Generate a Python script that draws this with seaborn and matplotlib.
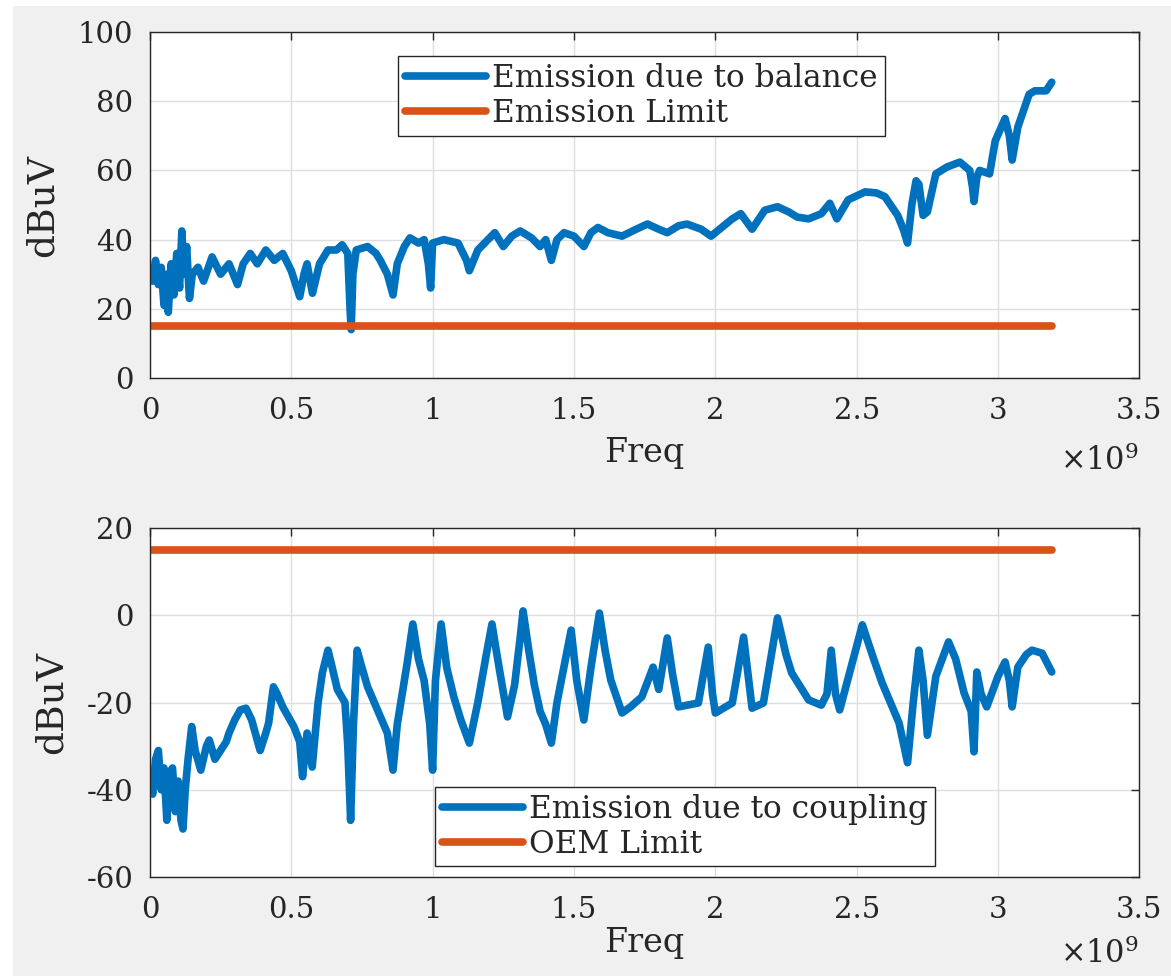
import numpy as np
import pandas as pd
import seaborn as sns
import matplotlib.pyplot as plt
from matplotlib.patches import Rectangle
from matplotlib.ticker import FuncFormatter

sns.set_style("white")
plt.rcParams['font.family'] = ['DejaVu Serif']
plt.rcParams['mathtext.fontset'] = 'dejavuserif'
plt.rcParams['axes.unicode_minus'] = False

# frequency in units of 1e9 Hz, level in dBuV
bal_freq = [0.00, 0.01, 0.02, 0.03, 0.04, 0.05, 0.06, 0.065, 0.075, 0.085, 0.095, 0.105, 0.113, 0.12,
            0.13, 0.14, 0.15, 0.17, 0.19, 0.22, 0.25, 0.28, 0.31, 0.33, 0.355, 0.38, 0.41, 0.44, 0.47,
            0.50, 0.53, 0.545, 0.556, 0.575, 0.60, 0.63, 0.66, 0.68, 0.70, 0.708, 0.712, 0.718, 0.73,
            0.77, 0.80, 0.815, 0.84, 0.86, 0.875, 0.90, 0.92, 0.95, 0.97, 0.985, 0.993, 1.00, 1.04,
            1.09, 1.12, 1.13, 1.16, 1.22, 1.25, 1.28, 1.31, 1.35, 1.38, 1.40, 1.42, 1.44, 1.465, 1.50,
            1.535, 1.56, 1.585, 1.62, 1.67, 1.72, 1.76, 1.80, 1.83, 1.87, 1.90, 1.95, 1.985, 2.03,
            2.06, 2.09, 2.13, 2.175, 2.22, 2.26, 2.29, 2.33, 2.375, 2.405, 2.43, 2.47, 2.53, 2.57,
            2.60, 2.645, 2.665, 2.68, 2.695, 2.71, 2.72, 2.735, 2.75, 2.78, 2.82, 2.865, 2.90, 2.91,
            2.915, 2.925, 2.935, 2.97, 2.99, 3.025, 3.04, 3.05, 3.07, 3.11, 3.13, 3.17, 3.19]
bal_level = [32, 28, 34, 27, 32, 21, 30, 19, 33, 24, 36, 26, 42.5, 30,
             38, 23, 30, 32, 28, 35, 30, 33, 27, 33, 36, 33, 37, 34, 36,
             31, 23.5, 30, 33, 24.5, 33, 37, 37, 38.5, 36, 20, 14, 30, 37,
             38, 36, 34, 30, 24, 33, 38, 40.5, 39, 40, 33, 26, 39, 40,
             39, 34, 31, 37, 42, 38, 41, 42.5, 40.5, 38, 40, 34, 40, 42, 41,
             38, 42, 43.5, 42, 41, 43, 44.5, 43, 42, 44, 44.5, 43, 41, 44,
             46, 47.5, 43, 48.5, 49.5, 48, 46.5, 46, 47.5, 50.5, 46, 51.5, 53.8, 53.5,
             52.4, 47, 43, 39, 50, 57, 56, 47, 48, 59, 61, 62.4, 60, 55,
             51, 58, 60, 59, 68.5, 75, 70, 63, 72.5, 82, 83, 83, 85.5]

cpl_freq = [0.00, 0.01, 0.02, 0.03, 0.04, 0.05, 0.06, 0.07, 0.08, 0.09, 0.10, 0.11, 0.117, 0.125,
            0.135, 0.148, 0.16, 0.18, 0.20, 0.21, 0.23, 0.25, 0.27, 0.28, 0.30, 0.32, 0.34, 0.36,
            0.39, 0.41, 0.42, 0.437, 0.45, 0.47, 0.51, 0.53, 0.54, 0.556, 0.574, 0.595, 0.61, 0.63,
            0.645, 0.663, 0.69, 0.70, 0.71, 0.72, 0.733, 0.75, 0.77, 0.805, 0.84, 0.86, 0.875, 0.91,
            0.93, 0.95, 0.97, 0.99, 1.00, 1.01, 1.03, 1.05, 1.075, 1.10, 1.13, 1.16, 1.19, 1.21,
            1.23, 1.265, 1.29, 1.31, 1.32, 1.34, 1.36, 1.38, 1.40, 1.42, 1.44, 1.47, 1.49, 1.51,
            1.535, 1.56, 1.59, 1.61, 1.63, 1.67, 1.70, 1.74, 1.78, 1.80, 1.83, 1.85, 1.87, 1.94,
            1.975, 1.99, 2.00, 2.06, 2.10, 2.12, 2.13, 2.17, 2.22, 2.25, 2.27, 2.33, 2.375, 2.395,
            2.41, 2.425, 2.44, 2.52, 2.56, 2.59, 2.65, 2.68, 2.70, 2.72, 2.735, 2.75, 2.78, 2.825,
            2.85, 2.88, 2.905, 2.915, 2.925, 2.94, 2.96, 3.00, 3.025, 3.04, 3.05, 3.07, 3.10, 3.12,
            3.156, 3.19]
cpl_level = [-38, -41, -33, -31, -40, -35, -47, -36, -35, -45, -38, -47, -49, -40,
             -33, -25.5, -31, -35.5, -30, -28.6, -33, -31, -29, -27, -24, -21.7, -21.3, -24,
             -31, -27, -24.7, -16.4, -18, -21, -25.6, -29, -37, -27, -34.8, -20, -13.2, -8,
             -12, -17, -20, -30, -47, -25, -8, -12, -16.4, -21.7, -27, -35.5, -25, -11,
             -2, -10, -15, -25, -35.5, -15, -2, -12, -18.7, -24, -29.3, -20, -9, -2,
             -10, -23.3, -16, -5, 1, -8, -16, -22, -25, -29.3, -20, -10, -3.4, -15,
             -24, -12, 0.5, -8, -14.8, -22.4, -21, -18.7, -11.9, -17, -5.2, -14, -21, -20.1,
             -7.3, -18, -22.4, -20.1, -5, -16, -21.3, -20.1, -0.6, -9, -13.2, -19.4, -20.6, -18,
             -8, -18, -21.7, -2.2, -10, -15.5, -24.7, -33.8, -20, -8, -15, -27.5, -14, -6.1,
             -10, -17.8, -22, -31.3, -13, -18, -21, -14, -10.7, -15, -21, -11.9, -9, -8,
             -8.7, -13]

limit_freq = [0.0, 3.19]
emission_limit = [15, 15]
oem_limit = [15, 15]

blue = '#0072BD'
orange = '#D95319'
ink = '#262626'

df_bal = pd.DataFrame({'Freq': np.array(bal_freq) * 1e9, 'dBuV': bal_level})
df_cpl = pd.DataFrame({'Freq': np.array(cpl_freq) * 1e9, 'dBuV': cpl_level})
df_lim1 = pd.DataFrame({'Freq': np.array(limit_freq) * 1e9, 'dBuV': emission_limit})
df_lim2 = pd.DataFrame({'Freq': np.array(limit_freq) * 1e9, 'dBuV': oem_limit})

fig = plt.figure(figsize=(11.71, 9.76), dpi=100, facecolor='white')
fig.add_artist(Rectangle((13 / 1171, 0), 1, 1 - 6 / 976, transform=fig.transFigure,
                         facecolor='#f0f0f0', edgecolor='none', zorder=-10))

ax1 = fig.add_axes([0.128, 0.6127, 0.845, 0.3545])
ax2 = fig.add_axes([0.128, 0.1014, 0.845, 0.3576])

lw = 5.5
sns.lineplot(data=df_bal, x='Freq', y='dBuV', ax=ax1, color=blue, linewidth=lw,
             sort=False, estimator=None, label='Emission due to balance')
sns.lineplot(data=df_lim1, x='Freq', y='dBuV', ax=ax1, color=orange, linewidth=lw,
             sort=False, estimator=None, label='Emission Limit')
sns.lineplot(data=df_cpl, x='Freq', y='dBuV', ax=ax2, color=blue, linewidth=lw,
             sort=False, estimator=None, label='Emission due to coupling')
sns.lineplot(data=df_lim2, x='Freq', y='dBuV', ax=ax2, color=orange, linewidth=lw,
             sort=False, estimator=None, label='OEM Limit')

ax1.set_ylim(0, 100)
ax1.set_yticks(np.arange(0, 101, 20))
ax2.set_ylim(-60, 20)
ax2.set_yticks(np.arange(-60, 21, 20))

for ax, xpad, off_y in ((ax1, 8, -0.265), (ax2, 2, -0.245)):
    ax.set_facecolor('white')
    ax.set_xlim(0, 3.5e9)
    ax.set_xticks(np.arange(0, 3.51e9, 0.5e9))
    ax.xaxis.set_major_formatter(FuncFormatter(lambda v, p: f'{v / 1e9:g}'))
    ax.grid(True, color='#dedede', linewidth=1)
    ax.set_axisbelow(True)
    for s in ax.spines.values():
        s.set_color(ink)
        s.set_linewidth(1)
        s.set_visible(True)
    ax.tick_params(direction='in', length=6, width=1, top=True, right=True,
                   labelsize=21, colors=ink)
    ax.tick_params(axis='x', pad=14)
    ax.tick_params(axis='y', pad=12)
    ax.set_xlabel('Freq', fontsize=24, color=ink, labelpad=xpad)
    ax.set_ylabel('dBuV', fontsize=27, color=ink, labelpad=12)
    ax.text(1.0, off_y, r'$\times10^{9}$', transform=ax.transAxes, ha='right',
            va='baseline', fontsize=22, color=ink)

leg_kw = dict(frameon=True, fancybox=False, framealpha=1, edgecolor=ink, fontsize=22.5,
              handlelength=2.6, handletextpad=0.2, labelspacing=0.12, borderpad=0.22,
              borderaxespad=0)
leg1 = ax1.legend(loc='upper left', bbox_to_anchor=(0.2505, 0.9306), **leg_kw)
leg2 = ax2.legend(loc='upper left', bbox_to_anchor=(0.288, 0.258), **leg_kw)
for leg in (leg1, leg2):
    leg.get_frame().set_linewidth(1)
    for t in leg.get_texts():
        t.set_color(ink)

fig.savefig('out.png', dpi=100, facecolor=fig.get_facecolor())
